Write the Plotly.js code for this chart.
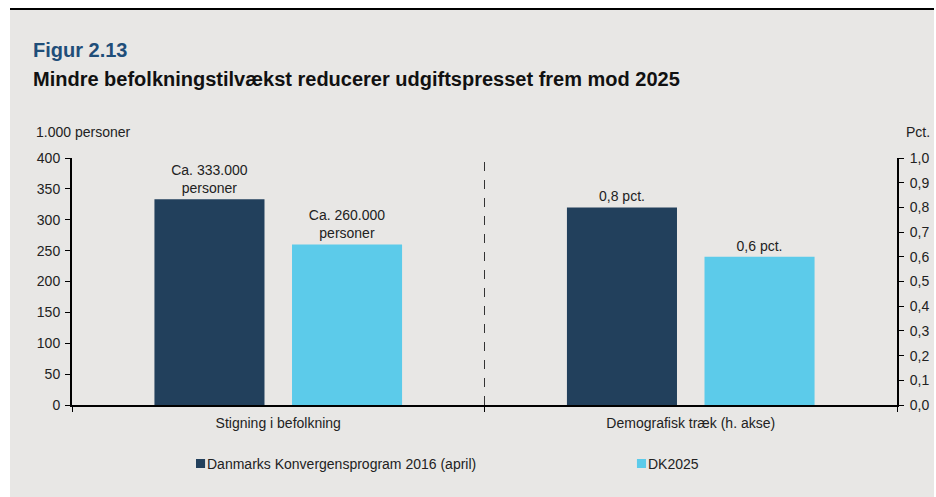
<!DOCTYPE html>
<html>
<head>
<meta charset="utf-8">
<script src="https://cdn.plot.ly/plotly-3.0.1.min.js"></script>
<style>
  html, body { margin: 0; padding: 0; background: #ffffff; width: 936px; height: 497px; overflow: hidden; }
  #frame { position: absolute; left: 10px; top: 8px; width: 924px; height: 489px; background: #e8e7e5; border-top: 2px solid #000; }
  #chart { position: absolute; left: 0; top: 0; width: 924px; height: 487px; }
</style>
</head>
<body>
<div id="frame"><div id="chart"></div></div>
<script>
// ---- data ----
const categories = ["Stigning i befolkning", "Demografisk træk (h. akse)"];
const seriesNames = ["Danmarks Konvergensprogram 2016 (april)", "DK2025"];
const leftValues = [333, 260];          // 1.000 personer
const rightValues = [0.8, 0.6];         // Pct.
const leftLabels = ["Ca. 333.000<br>personer", "Ca. 260.000<br>personer"];
const rightLabels = ["0,8 pct.", "0,6 pct."];
const colors = ["#22405c", "#5ccbea"];
const leftTicks = [0, 50, 100, 150, 200, 250, 300, 350, 400];
const rightTicks = [0, 0.1, 0.2, 0.3, 0.4, 0.5, 0.6, 0.7, 0.8, 0.9, 1.0];

const font = "Liberation Sans, Arial, sans-serif";
const txt = { family: font, size: 14, color: "#222" };

const traces = [];
for (let i = 0; i < 2; i++) {
  traces.push({
    type: "bar", name: seriesNames[i], x: [categories[0]], y: [leftValues[i]],
    yaxis: "y", offsetgroup: "g" + i, marker: { color: colors[i] },
    text: [leftLabels[i]], textposition: "outside", textfont: txt,
    cliponaxis: false, hoverinfo: "skip", showlegend: false
  });
}
for (let i = 0; i < 2; i++) {
  traces.push({
    type: "bar", name: seriesNames[i], x: [categories[1]], y: [rightValues[i]],
    yaxis: "y2", offsetgroup: "g" + i, marker: { color: colors[i] },
    text: [rightLabels[i]], textposition: "outside", textfont: txt,
    cliponaxis: false, hoverinfo: "skip", showlegend: false
  });
}

// legend drawn in paper space (symbols + names from the series arrays)
const legendX = [0.1503, 0.6848];
const legendShapes = colors.map((c, i) => ({
  type: "rect", xref: "paper", yref: "paper",
  x0: legendX[i], x1: legendX[i] + 0.011, y0: -0.2551, y1: -0.2186,
  fillcolor: c, line: { width: 0 }
}));
const legendTexts = seriesNames.map((n, i) => ({
  xref: "paper", yref: "paper", x: legendX[i] + 0.011, y: -0.2389,
  xanchor: "left", yanchor: "middle", text: n, showarrow: false, font: txt
}));

const layout = {
  width: 924, height: 487,
  paper_bgcolor: "rgba(0,0,0,0)", plot_bgcolor: "rgba(0,0,0,0)",
  margin: { l: 62, r: 37, t: 148, b: 92 },
  separators: ",.",
  font: txt,
  barmode: "group", bargap: 0.333, bargroupgap: 0.2,
  showlegend: false,
  xaxis: {
    type: "category", tickson: "boundaries", ticks: "outside", ticklen: 5,
    tickcolor: "#000", showline: true, linecolor: "#000", linewidth: 2,
    showgrid: false, zeroline: false, fixedrange: true, ticklabelstandoff: 4,
    tickfont: txt
  },
  yaxis: {
    range: [0, 400], tickvals: leftTicks, ticks: "outside", ticklen: 5,
    tickcolor: "#000", showline: true, linecolor: "#000", linewidth: 2,
    showgrid: false, zeroline: false, fixedrange: true, tickfont: txt,
    ticklabelstandoff: 2
  },
  yaxis2: {
    overlaying: "y", side: "right", range: [0, 1], tickvals: rightTicks,
    tickformat: ".1f", ticks: "outside", ticklen: 5, tickcolor: "#000",
    showline: true, linecolor: "#000", linewidth: 2, showgrid: false,
    zeroline: false, fixedrange: true, tickfont: txt, ticklabelstandoff: 3
  },
  shapes: [{
    type: "line", xref: "x", yref: "paper", x0: 0.5, x1: 0.5, y0: 0, y1: 1,
    line: { color: "#333", width: 1, dash: "dash" }
  }].concat(legendShapes),
  annotations: [
    { xref: "paper", yref: "paper", x: -0.0461, y: 1.105, xanchor: "left", yanchor: "middle",
      text: "1.000 personer", showarrow: false, font: txt },
    { xref: "paper", yref: "paper", x: 1.042, y: 1.105, xanchor: "right", yanchor: "middle",
      text: "Pct.", showarrow: false, font: txt },
    { xref: "paper", yref: "paper", x: -0.0497, y: 1.437, xanchor: "left", yanchor: "middle",
      text: "<b>Figur 2.13</b>", showarrow: false, font: { family: font, size: 20, color: "#1f4e79" } },
    { xref: "paper", yref: "paper", x: -0.0497, y: 1.320, xanchor: "left", yanchor: "middle",
      text: "<b>Mindre befolkningstilvækst reducerer udgiftspresset frem mod 2025</b>", showarrow: false,
      font: { family: font, size: 20, color: "#111" } }
  ].concat(legendTexts)
};

Plotly.newPlot("chart", traces, layout, { displayModeBar: false, staticPlot: true });
</script>
</body>
</html>
